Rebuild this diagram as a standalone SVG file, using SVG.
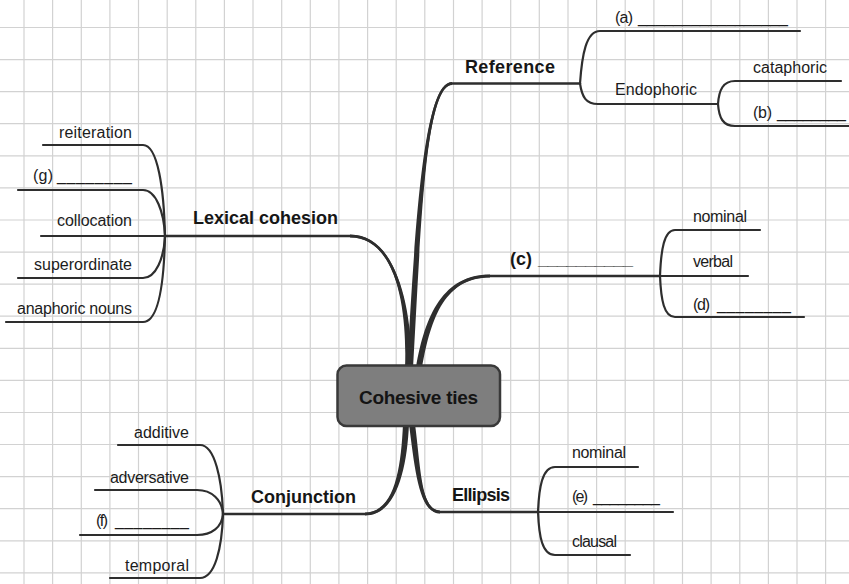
<svg xmlns="http://www.w3.org/2000/svg" width="849" height="584" viewBox="0 0 849 584">
<style>
.grid{fill:none;stroke:#d2d2d2;stroke-width:1.2}
.stem{fill:#2e2e2e;stroke:none}
.main{fill:none;stroke:#2e2e2e;stroke-width:2.6;stroke-linecap:round}
.br{fill:none;stroke:#2e2e2e;stroke-width:2.2;stroke-linecap:round}
.lbl{font-family:"Liberation Sans",Arial,sans-serif;font-size:16px;fill:#1c1c1c}
.hd{font-family:"Liberation Sans",Arial,sans-serif;font-size:18px;font-weight:bold;fill:#161616}
.ctr{font-family:"Liberation Sans",Arial,sans-serif;font-size:19px;font-weight:bold;fill:#141414}
.box{fill:#7e7e7e;stroke:#393939;stroke-width:2.5}
</style>
<rect width="849" height="584" fill="#ffffff"/>
<path class="grid" d="M24 0V584M52.6 0V584M81.3 0V584M109.9 0V584M138.5 0V584M167.2 0V584M195.8 0V584M224.4 0V584M253 0V584M281.7 0V584M310.3 0V584M338.9 0V584M367.6 0V584M396.2 0V584M424.8 0V584M453.5 0V584M482.1 0V584M510.7 0V584M539.3 0V584M568 0V584M596.6 0V584M625.2 0V584M653.9 0V584M682.5 0V584M711.1 0V584M739.8 0V584M768.4 0V584M797 0V584M825.6 0V584M0 27.5H849M0 59.6H849M0 91.7H849M0 123.7H849M0 155.8H849M0 187.9H849M0 220H849M0 252.1H849M0 284.1H849M0 316.2H849M0 348.3H849M0 380.4H849M0 412.5H849M0 444.5H849M0 476.6H849M0 508.7H849M0 540.8H849M0 572.9H849"/>
<g id="connectors">
  <!-- Reference -->
  <path class="main" d="M410,368 C418,230 424,83.5 452,83.5 L580,83.5"/>
  <path class="stem" d="M407,368 C415,230 423,82 452,82 L452,85 C425,85 421,230 413,368 Z"/>
  <path class="br" d="M580,83.5 C582,55 586,31 600,31 L800,31"/>
  <path class="br" d="M580,83.5 C582,97 586,104 598,104 L718,104"/>
  <path class="br" d="M718,104 C719,90 723,81 735,81 L841,81"/>
  <path class="br" d="M718,104 C719,118 723,126 735,126 L852,126"/>
  <!-- (c) -->
  <path class="main" d="M419,368 C428,315 445,276 490,276 L660,276"/>
  <path class="stem" d="M416,368 C425,314 444,274.5 490,274.5 L490,277.5 C446,277.5 431,316 422,368 Z"/>
  <path class="br" d="M660,276 L748,276"/>
  <path class="br" d="M660,276 C661,250 664,230 675,230 L760,230"/>
  <path class="br" d="M660,276 C661,300 664,317 675,317 L804,317"/>
  <!-- Lexical cohesion -->
  <path class="main" d="M408,368 C410,320 400,236 350,236 L165,236"/>
  <path class="stem" d="M405,368 C407,320 400,237.5 350,237.5 L350,234.5 C400,234.5 413,320 411,368 Z"/>
  <path class="br" d="M165,236 L41,236"/>
  <path class="br" d="M165,236 C164,190 158,145 143,145 L43,145"/>
  <path class="br" d="M165,236 C164,212 156,190 143,190 L18,190"/>
  <path class="br" d="M165,236 C164,258 156,278 143,278 L18,278"/>
  <path class="br" d="M165,236 C164,285 158,322 143,322 L6,322"/>
  <!-- Ellipsis -->
  <path class="main" d="M412,424 C418,470 420,512 440,512 L538,512"/>
  <path class="stem" d="M415,424 C421,470 421,510.5 440,510.5 L440,513.5 C419,513.5 415,470 409,424 Z"/>
  <path class="br" d="M538,512 L673,512"/>
  <path class="br" d="M538,512 C539,488 542,467 555,467 L638,467"/>
  <path class="br" d="M538,512 C539,536 542,555 555,555 L630,555"/>
  <!-- Conjunction -->
  <path class="main" d="M406,424 C404,470 395,514 365,514 L223,514"/>
  <path class="stem" d="M409,424 C407,470 396,515.5 365,515.5 L365,512.5 C394,512.5 401,470 403,424 Z"/>
  <path class="br" d="M223,514 C222,480 215,445 200,445 L118,445"/>
  <path class="br" d="M223,514 C222,500 212,490 197,490 L95,490"/>
  <path class="br" d="M223,514 C222,527 212,535 197,535 L80,535"/>
  <path class="br" d="M223,514 C222,548 215,578 200,578 L110,578"/>
</g>
<g id="reference"><text class="hd" x="465" y="73" textLength="90">Reference</text></g>
<g id="ref-a"><text class="lbl" x="615" y="23"><tspan textLength="18">(a)</tspan> <tspan x="638" textLength="150">_________________</tspan></text></g>
<g id="endophoric"><text class="lbl" x="615" y="95" textLength="82">Endophoric</text></g>
<g id="cataphoric"><text class="lbl" x="753" y="73" textLength="74">cataphoric</text></g>
<g id="ref-b"><text class="lbl" x="753" y="118"><tspan textLength="19">(b)</tspan> <tspan x="777" textLength="69">________</tspan></text></g>
<g id="branch-c"><text class="hd" x="510" y="264.5"><tspan textLength="22">(c)</tspan> <tspan x="538" textLength="95">__________</tspan></text></g>
<g id="c-nominal"><text class="lbl" x="693" y="221.5" textLength="54">nominal</text></g>
<g id="c-verbal"><text class="lbl" x="693" y="266.5" textLength="40">verbal</text></g>
<g id="c-d"><text class="lbl" x="693" y="309.5"><tspan textLength="17">(d)</tspan> <tspan x="717" textLength="74">________</tspan></text></g>
<g id="ellipsis"><text class="hd" x="452" y="501" textLength="58">Ellipsis</text></g>
<g id="e-nominal"><text class="lbl" x="572" y="458" textLength="54">nominal</text></g>
<g id="e-e"><text class="lbl" x="572" y="502.3"><tspan textLength="16">(e)</tspan> <tspan x="593" textLength="67">________</tspan></text></g>
<g id="e-clausal"><text class="lbl" x="572" y="547" textLength="45">clausal</text></g>
<g id="conjunction"><text class="hd" x="251" y="503" textLength="105">Conjunction</text></g>
<g id="additive"><text class="lbl" x="134" y="438" textLength="55">additive</text></g>
<g id="adversative"><text class="lbl" x="110" y="483" textLength="79">adversative</text></g>
<g id="conj-f"><text class="lbl" x="96" y="526.3"><tspan textLength="12">(f)</tspan> <tspan x="115" textLength="74">________</tspan></text></g>
<g id="temporal"><text class="lbl" x="125" y="571" textLength="64">temporal</text></g>
<g id="lexical"><text class="hd" x="193" y="224" textLength="145">Lexical cohesion</text></g>
<g id="reiteration"><text class="lbl" x="59" y="138" textLength="73">reiteration</text></g>
<g id="lex-g"><text class="lbl" x="33" y="181.3"><tspan textLength="20">(g)</tspan> <tspan x="57" textLength="75">________</tspan></text></g>
<g id="collocation"><text class="lbl" x="57" y="226" textLength="75">collocation</text></g>
<g id="superordinate"><text class="lbl" x="34" y="270" textLength="98">superordinate</text></g>
<g id="anaphoric"><text class="lbl" x="17" y="314" textLength="115">anaphoric nouns</text></g>
<g id="center">
  <rect class="box" x="337.5" y="365.5" width="162.5" height="60.5" rx="9"/>
  <text class="ctr" x="418.5" y="404" text-anchor="middle" textLength="119">Cohesive ties</text>
</g>
</svg>
